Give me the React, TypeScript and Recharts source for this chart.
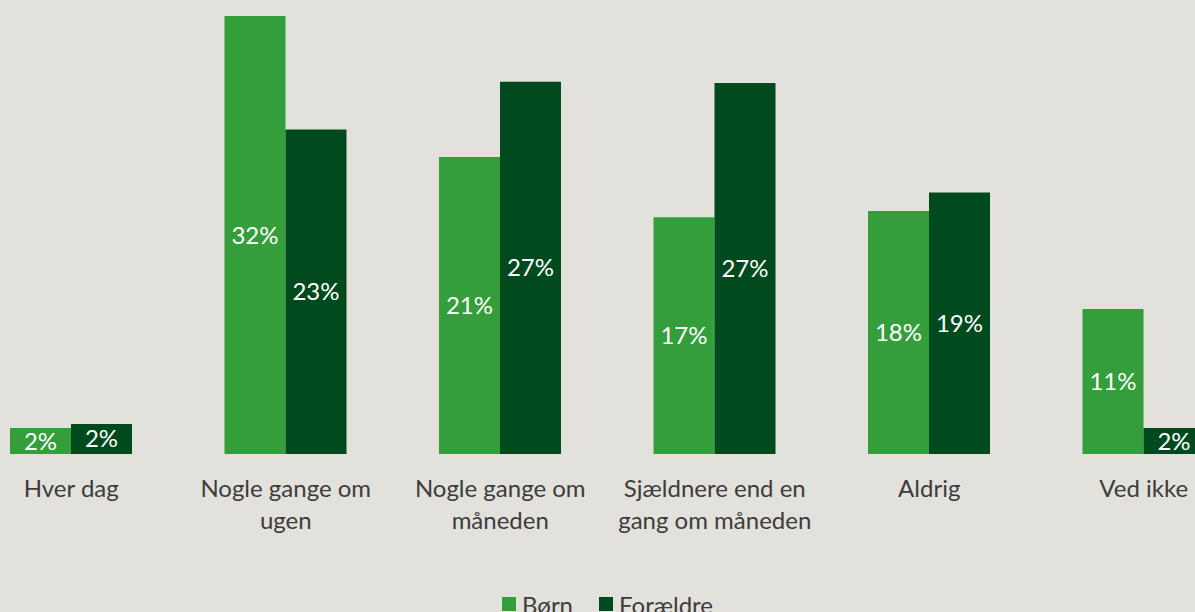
import React from 'react';
import { BarChart, Bar, XAxis, YAxis, Legend, LabelList } from 'recharts';

const categories = [
  'Hver dag',
  'Nogle gange om\nugen',
  'Nogle gange om\nmåneden',
  'Sjældnere end en\ngang om måneden',
  'Aldrig',
  'Ved ikke',
];
const bornValues = [1.9, 32, 21.7, 17.3, 17.75, 10.6];
const foraeldreValues = [2.2, 23.7, 27.2, 27.1, 19.1, 1.9];
const bornLabels = ['2%', '32%', '21%', '17%', '18%', '11%'];
const foraeldreLabels = ['2%', '23%', '27%', '27%', '19%', '2%'];

const LIGHT = '#349e3b';
const DARK = '#004a1e';
const TEXT = '#3c3c3c';
const FONT = 'Lato, "Noto Sans", sans-serif';

const data = categories.map((name, i) => ({
  name,
  born: bornValues[i],
  foraeldre: foraeldreValues[i],
  bornLabel: bornLabels[i],
  foraeldreLabel: foraeldreLabels[i],
}));

const CategoryTick = (props: any) => {
  const { x, y, payload } = props;
  const lines = String(payload.value).split('\n');
  return (
    <text x={x} y={y} textAnchor="middle" fill={TEXT} fontSize={24} fontFamily={FONT}>
      {lines.map((line, i) => (
        <tspan key={i} x={x} dy={i === 0 ? 35 : 32}>
          {line}
        </tspan>
      ))}
    </text>
  );
};

const LegendContent = () => (
  <div
    style={{
      display: 'flex',
      justifyContent: 'center',
      alignItems: 'center',
      height: 30,
      fontFamily: FONT,
      fontSize: 24,
      color: TEXT,
    }}
  >
    <span style={{ width: 14, height: 14, background: LIGHT, marginRight: 6 }} />
    <span style={{ marginRight: 26 }}>Børn</span>
    <span style={{ width: 14, height: 14, background: DARK, marginRight: 6 }} />
    <span>Forældre</span>
  </div>
);

export default function App() {
  return (
    <div
      style={{
        position: 'fixed',
        left: 0,
        top: 0,
        width: 1195,
        height: 612,
        overflow: 'hidden',
        background: '#e3e1dc',
      }}
    >
      <div style={{ position: 'absolute', left: -36, top: 0 }}>
        <BarChart
          width={1287}
          height={619}
          data={data}
          margin={{ top: 16, right: 0, left: 0, bottom: 0 }}
          barGap={0}
          barSize={61}
        >
          <XAxis
            dataKey="name"
            axisLine={false}
            tickLine={false}
            interval={0}
            height={135}
            tick={<CategoryTick />}
          />
          <YAxis hide domain={[0, 32]} />
          <Legend verticalAlign="bottom" content={<LegendContent />} />
          <Bar dataKey="born" name="Børn" fill={LIGHT} isAnimationActive={false}>
            <LabelList dataKey="bornLabel" position="center" fill="#ffffff" fontSize={24} fontFamily={FONT} />
          </Bar>
          <Bar dataKey="foraeldre" name="Forældre" fill={DARK} isAnimationActive={false}>
            <LabelList dataKey="foraeldreLabel" position="center" fill="#ffffff" fontSize={24} fontFamily={FONT} />
          </Bar>
        </BarChart>
      </div>
    </div>
  );
}
